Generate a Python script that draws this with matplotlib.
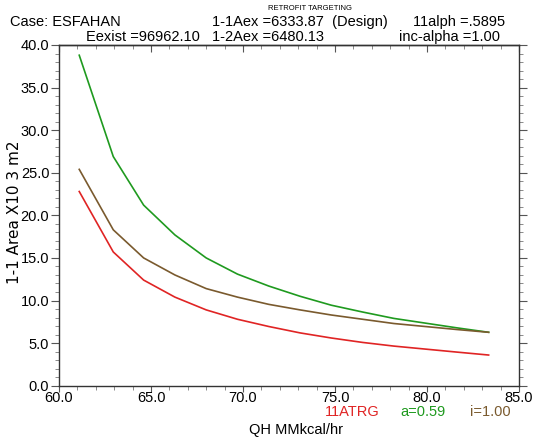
import matplotlib
matplotlib.use("Agg")
import matplotlib.pyplot as plt
from matplotlib.ticker import MultipleLocator, FormatStrFormatter, NullFormatter

plt.rcParams['font.family'] = ['Liberation Sans', 'DejaVu Sans']

qh = [61.1, 62.95, 64.6, 66.3, 68.0, 69.7, 71.4, 73.1, 74.8, 76.5, 78.2, 79.9, 81.6, 83.35]
area_a = [38.8, 26.9, 21.2, 17.7, 15.0, 13.1, 11.7, 10.5, 9.45, 8.65, 7.9, 7.35, 6.8, 6.27]
area_i = [25.4, 18.3, 15.0, 13.0, 11.4, 10.4, 9.55, 8.9, 8.3, 7.8, 7.3, 6.95, 6.6, 6.27]
area_trg = [22.8, 15.7, 12.4, 10.4, 8.9, 7.8, 6.95, 6.2, 5.6, 5.08, 4.65, 4.3, 3.95, 3.6]

x_label = "QH MMkcal/hr"
y_label = "1-1 Area X10 3 m2"

RED = "#e02424"
GREEN = "#1f9a1f"
BROWN = "#7a5a2e"

fig = plt.figure(figsize=(5.36, 4.41), dpi=100)
ax = fig.add_axes([59/536, 1-385.7/441, 460/536, 340.7/441])

ax.plot(qh, area_a, color=GREEN, lw=1.2)
ax.plot(qh, area_i, color=BROWN, lw=1.2)
ax.plot(qh, area_trg, color=RED, lw=1.2)

ax.set_xlim(60, 85)
ax.set_ylim(0, 40)
ax.xaxis.set_major_locator(MultipleLocator(5))
ax.xaxis.set_minor_locator(MultipleLocator(1))
ax.yaxis.set_major_locator(MultipleLocator(5))
ax.yaxis.set_minor_locator(MultipleLocator(1))
ax.xaxis.set_major_formatter(FormatStrFormatter('%.1f'))
ax.yaxis.set_major_formatter(FormatStrFormatter('%.1f'))

ax.tick_params(axis='x', which='major', labelsize=10.5, length=4, width=0.8, color='#555555', pad=0,
               top=False, bottom=True)
ax.tick_params(axis='x', which='minor', length=3, width=0.6, color='#777777', top=False, bottom=True)
ax.tick_params(axis='y', which='major', labelsize=10.5, length=6, width=0.8, color='#555555', pad=1,
               left=True, right=True)
ax.tick_params(axis='y', which='minor', length=3, width=0.6, color='#777777', left=True, right=True)

top = ax.secondary_xaxis('top')
top.xaxis.set_major_locator(MultipleLocator(5))
top.xaxis.set_minor_locator(MultipleLocator(1))
top.xaxis.set_major_formatter(NullFormatter())
top.tick_params(axis='x', which='major', direction='in', length=5, width=0.8, color='#555555')
top.tick_params(axis='x', which='minor', direction='in', length=3, width=0.6, color='#777777')
top.spines['top'].set_linewidth(1.0)
top.spines['top'].set_color('#333333')

for s in ax.spines.values():
    s.set_linewidth(1.0)
    s.set_color('#333333')

fig.text(310/536, 1-8/441, "RETROFIT TARGETING", fontsize=5.5, ha='center', va='center')
fig.text(10/536, 1-22/441, "Case: ESFAHAN", fontsize=10.5, ha='left', va='center')
fig.text(212/536, 1-22/441, "1-1Aex =6333.87  (Design)", fontsize=10.5, ha='left', va='center')
fig.text(505/536, 1-22/441, "11alph =.5895", fontsize=10.5, ha='right', va='center')
fig.text(86/536, 1-37/441, "Eexist =96962.10", fontsize=10.5, ha='left', va='center')
fig.text(212/536, 1-37/441, "1-2Aex =6480.13", fontsize=10.5, ha='left', va='center')
fig.text(500/536, 1-37/441, "inc-alpha =1.00", fontsize=10.5, ha='right', va='center')

fig.text(325/536, 1-412/441, "11ATRG", fontsize=10.5, color=RED, ha='left', va='center')
fig.text(400/536, 1-412/441, "a=0.59", fontsize=10.5, color=GREEN, ha='left', va='center')
fig.text(470/536, 1-412/441, "i=1.00", fontsize=10.5, color=BROWN, ha='left', va='center')
fig.text(296/536, 1-430/441, x_label, fontsize=10.5, ha='center', va='center')
fig.text(15/536, 1-212/441, y_label, fontsize=11, family=['DejaVu Sans'], rotation=90,
         ha='center', va='center')

fig.savefig("out.png", dpi=100)
